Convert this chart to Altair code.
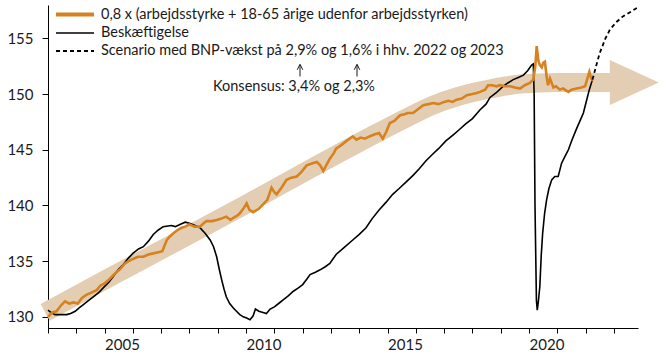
import altair as alt
import pandas as pd

# ---- data ----
orange_years = [2003.00, 2003.15, 2003.30, 2003.45, 2003.60, 2003.75, 2003.90, 2004.05, 2004.20, 2004.37,
                2004.55, 2004.72, 2004.85, 2005.00, 2005.18, 2005.37, 2005.55, 2005.72, 2005.85, 2006.00,
                2006.18, 2006.37, 2006.55, 2006.72, 2006.90, 2007.04, 2007.12, 2007.20, 2007.30, 2007.43,
                2007.58, 2007.72, 2007.85, 2008.00, 2008.18, 2008.37, 2008.50, 2008.60, 2008.80, 2008.96,
                2009.10, 2009.30, 2009.45, 2009.55, 2009.70, 2009.78, 2009.90, 2010.02, 2010.12, 2010.25,
                2010.45, 2010.60, 2010.75, 2010.90, 2011.00, 2011.08, 2011.25, 2011.43, 2011.60, 2011.79,
                2011.95, 2012.14, 2012.35, 2012.50, 2012.62, 2012.73, 2012.85, 2012.96, 2013.10, 2013.18,
                2013.35, 2013.55, 2013.77, 2013.90, 2014.05, 2014.20, 2014.36, 2014.55, 2014.70, 2014.83,
                2014.95, 2015.08, 2015.24, 2015.44, 2015.60, 2015.71, 2015.90, 2016.05, 2016.26, 2016.45,
                2016.61, 2016.80, 2017.00, 2017.15, 2017.30, 2017.44, 2017.62, 2017.80, 2018.00, 2018.15,
                2018.27, 2018.45, 2018.55, 2018.70, 2018.85, 2018.97, 2019.15, 2019.33, 2019.50, 2019.68,
                2019.85, 2020.03, 2020.15, 2020.22, 2020.27, 2020.33, 2020.38, 2020.45, 2020.50, 2020.56,
                2020.62, 2020.67, 2020.74, 2020.86, 2020.95, 2021.09, 2021.20, 2021.39, 2021.50, 2021.68,
                2021.85, 2021.98, 2022.05, 2022.13, 2022.20, 2022.25]
orange_vals = [130.0, 130.4, 130.5, 131.0, 131.4, 131.2, 131.3, 131.2, 131.7, 132.0,
               132.2, 132.4, 132.8, 133.0, 133.4, 133.9, 134.3, 134.8, 135.0, 135.2,
               135.4, 135.4, 135.6, 135.7, 135.8, 135.9, 136.4, 136.9, 137.2, 137.5,
               137.8, 138.0, 138.1, 138.3, 138.1, 138.1, 138.4, 138.6, 138.6, 138.7,
               138.8, 139.0, 138.7, 138.9, 139.1, 139.3, 139.7, 140.2, 139.6, 139.4,
               139.7, 140.1, 140.5, 141.6, 141.2, 141.0, 141.6, 142.3, 142.5, 142.6,
               143.0, 143.6, 143.8, 143.9, 143.6, 143.1, 143.7, 144.2, 144.7, 145.1,
               145.4, 145.8, 146.2, 145.9, 146.1, 146.0, 146.2, 146.4, 146.5, 146.0,
               146.6, 147.4, 147.6, 148.1, 148.2, 148.3, 148.3, 148.6, 149.0, 149.1,
               149.2, 149.1, 149.3, 149.4, 149.3, 149.5, 149.6, 149.9, 150.0, 150.1,
               150.2, 150.4, 150.8, 150.8, 150.7, 150.8, 150.7, 150.7, 150.6, 150.5,
               150.8, 151.0, 151.3, 152.5, 154.3, 153.0, 152.6, 152.4, 152.8, 152.9,
               151.6, 150.8, 151.4, 150.6, 150.7, 150.4, 150.5, 150.2, 150.4, 150.5,
               150.6, 150.7, 151.3, 152.0, 151.4, 151.2]

black_years = [2003.00, 2003.10, 2003.25, 2003.50, 2003.66, 2003.80, 2003.96, 2004.10, 2004.25, 2004.45,
               2004.60, 2004.80, 2004.95, 2005.15, 2005.30, 2005.50, 2005.66, 2005.85, 2006.00, 2006.20,
               2006.37, 2006.55, 2006.72, 2006.90, 2007.07, 2007.36, 2007.50, 2007.66, 2007.85, 2008.00,
               2008.20, 2008.37, 2008.55, 2008.73, 2008.85, 2008.96, 2009.05, 2009.14, 2009.22, 2009.30,
               2009.42, 2009.55, 2009.66, 2009.78, 2009.90, 2010.02, 2010.14, 2010.25, 2010.33, 2010.45,
               2010.60, 2010.72, 2010.85, 2011.00, 2011.15, 2011.30, 2011.50, 2011.67, 2011.85, 2012.00,
               2012.15, 2012.26, 2012.45, 2012.60, 2012.80, 2012.96, 2013.10, 2013.18, 2013.45, 2013.77,
               2014.00, 2014.24, 2014.45, 2014.70, 2014.95, 2015.18, 2015.40, 2015.65, 2015.90, 2016.12,
               2016.35, 2016.59, 2016.80, 2017.06, 2017.30, 2017.53, 2017.75, 2018.00, 2018.27, 2018.48,
               2018.62, 2018.83, 2019.08, 2019.25, 2019.44, 2019.62, 2019.80, 2019.95, 2020.09, 2020.15,
               2020.18, 2020.21, 2020.26, 2020.29, 2020.33, 2020.38, 2020.43, 2020.48, 2020.55, 2020.62,
               2020.70, 2020.80, 2020.91, 2021.03, 2021.15, 2021.27, 2021.39, 2021.52, 2021.68, 2021.80,
               2021.92, 2022.03, 2022.13, 2022.24]
black_vals = [130.6, 130.4, 130.2, 130.2, 130.2, 130.3, 130.5, 130.8, 131.1, 131.5,
              131.8, 132.2, 132.6, 133.1, 133.6, 134.3, 134.7, 135.3, 135.7, 136.1,
              136.3, 136.8, 137.4, 137.8, 138.1, 138.2, 138.1, 138.3, 138.5, 138.4,
              138.2, 138.0, 137.5, 136.9, 136.3, 135.4, 134.3, 133.3, 132.5, 131.8,
              131.2, 130.8, 130.5, 130.2, 130.0, 129.9, 129.75, 130.1, 130.7, 130.5,
              130.4, 130.3, 130.7, 130.9, 131.2, 131.5, 131.9, 132.3, 132.6, 132.9,
              133.4, 133.8, 134.0, 134.2, 134.5, 134.8, 135.3, 135.6, 136.2, 136.9,
              137.4, 138.0, 138.8, 139.6, 140.3, 141.0, 141.5, 142.1, 142.7, 143.3,
              144.0, 144.6, 145.1, 145.8, 146.3, 146.8, 147.3, 147.8, 148.6, 149.1,
              149.7, 150.1, 150.7, 151.0, 151.3, 151.5, 151.7, 152.1, 152.6, 152.7,
              150.0, 140.0, 131.5, 130.6, 131.4, 132.7, 135.5, 137.5, 139.3, 140.5,
              141.5, 142.3, 142.6, 142.6, 143.8, 144.4, 145.0, 145.9, 146.9, 147.6,
              148.3, 149.4, 150.4, 151.3]

scen_years = [2022.24, 2022.40, 2022.50, 2022.70, 2022.86, 2023.10, 2023.33, 2023.60, 2023.85]
scen_vals = [151.3, 152.8, 153.7, 155.0, 155.8, 156.5, 157.0, 157.4, 157.8]

band_years = [2002.9, 2005.0, 2010.0, 2013.0, 2014.7, 2015.7, 2016.6, 2017.5, 2018.3, 2019.7, 2021.0, 2022.86]
band_vals = [130.4, 133.3, 140.1, 144.3, 146.6, 147.9, 149.0, 149.8, 150.3, 150.9, 151.05, 151.05]
arrow_year = [2023.72]
arrow_val = [151.04]

legend_labels = ["0,8 x (arbejdsstyrke + 18-65 årige udenfor arbejdsstyrken)",
                 "Beskæftigelse",
                 "Scenario med BNP-vækst på 2,9% og 1,6% i hhv. 2022 og 2023"]
annotation = "Konsensus: 3,4% og 2,3%"

x_ticks = list(range(2003, 2024))
y_ticks = [130, 135, 140, 145, 150, 155]

FONT = "Lato, Carlito, sans-serif"
ORANGE = "#d6821f"
TAN = "#e4ceb3"

X_DOMAIN = [2003.0, 2023.85]
Y_DOMAIN = [129.0, 158.0]

df_o = pd.DataFrame({"year": orange_years, "v": orange_vals})
df_b = pd.DataFrame({"year": black_years, "v": black_vals})
df_s = pd.DataFrame({"year": scen_years, "v": scen_vals})
df_band = pd.DataFrame({"year": band_years, "v": band_vals})
df_arrow = pd.DataFrame({"year": arrow_year, "v": arrow_val})

xs = alt.Scale(domain=X_DOMAIN, nice=False, zero=False)
ys = alt.Scale(domain=Y_DOMAIN, nice=False, zero=False)

x_axis = alt.Axis(values=x_ticks, format="d",
                  labelExpr="datum.value % 5 == 0 ? datum.label : ''",
                  labelAlign="left", labelFlush=False, labelOverlap=False,
                  tickSize=5, labelPadding=4, grid=False, title=None)
y_axis = alt.Axis(values=y_ticks, tickSize=6, labelPadding=9, grid=False, title=None)

X = alt.X("year:Q", scale=xs, axis=x_axis)
Y = alt.Y("v:Q", scale=ys, axis=y_axis)

band = alt.Chart(df_band).mark_line(color=TAN, strokeWidth=19, strokeCap="butt",
                                    interpolate="monotone").encode(x=X, y=Y)
head = alt.Chart(df_arrow).mark_point(shape="M-1,-0.92L1,0L-1,0.92Z", size=2401, filled=True,
                                      color=TAN, opacity=1, strokeWidth=0).encode(x=X, y=Y)
black = alt.Chart(df_b).mark_line(color="#000000", strokeWidth=1.6).encode(x=X, y=Y)
orange = alt.Chart(df_o).mark_line(color=ORANGE, strokeWidth=2.6).encode(x=X, y=Y)
scen = alt.Chart(df_s).mark_line(color="#000000", strokeWidth=1.8, strokeDash=[4, 3]).encode(x=X, y=Y)

# legend (drawn manually)
leg_y = [9.5, 28, 46]


def leg_line(y, color, width, dash=None):
    kw = dict(color=color, strokeWidth=width, strokeCap="butt")
    if dash:
        kw["strokeDash"] = dash
    return alt.Chart(pd.DataFrame({"a": [0]})).mark_rule(**kw).encode(
        x=alt.value(8), x2=alt.value(46), y=alt.value(y))


leg1 = leg_line(leg_y[0], ORANGE, 4)
leg2 = leg_line(leg_y[1], "#000000", 1.6)
leg3 = leg_line(leg_y[2], "#000000", 1.8, [4, 3])

leg_texts = []
for i, lab in enumerate(legend_labels):
    leg_texts.append(
        alt.Chart(pd.DataFrame({"t": [lab]})).mark_text(
            align="left", baseline="middle", font=FONT, fontSize=14.5, color="#1a1a1a"
        ).encode(x=alt.value(53), y=alt.value(leg_y[i]), text="t:N")
    )

ann = alt.Chart(pd.DataFrame({"t": [annotation]})).mark_text(
    align="left", baseline="middle", font=FONT, fontSize=14.5, color="#1a1a1a"
).encode(x=alt.value(165), y=alt.value(82), text="t:N")

arrows = []
for ax in [252, 309]:
    arrows.append(alt.Chart(pd.DataFrame({"a": [0]})).mark_rule(color="#1a1a1a", strokeWidth=1).encode(
        x=alt.value(ax), y=alt.value(60), y2=alt.value(71.5)))
    arrows.append(alt.Chart(pd.DataFrame({"a": [0]})).mark_point(
        shape="M-1,1L0,-1L1,1", size=30, filled=False, color="#1a1a1a", strokeWidth=1, opacity=1
    ).encode(x=alt.value(ax), y=alt.value(62)))

chart = alt.layer(band, head, black, orange, scen, leg1, leg2, leg3, *leg_texts, ann, *arrows).properties(
    width=590, height=323,
    autosize=alt.AutoSizeParams(type="none"),
    padding={"left": 48, "top": 5, "right": 34, "bottom": 27},
).configure_view(stroke=None).configure_axis(
    domainColor="#000000", tickColor="#000000", labelColor="#1a1a1a",
    labelFont=FONT, labelFontSize=15, domainWidth=1, tickWidth=1
)

chart.save("out.html", embed_options={"renderer": "svg", "actions": False})
